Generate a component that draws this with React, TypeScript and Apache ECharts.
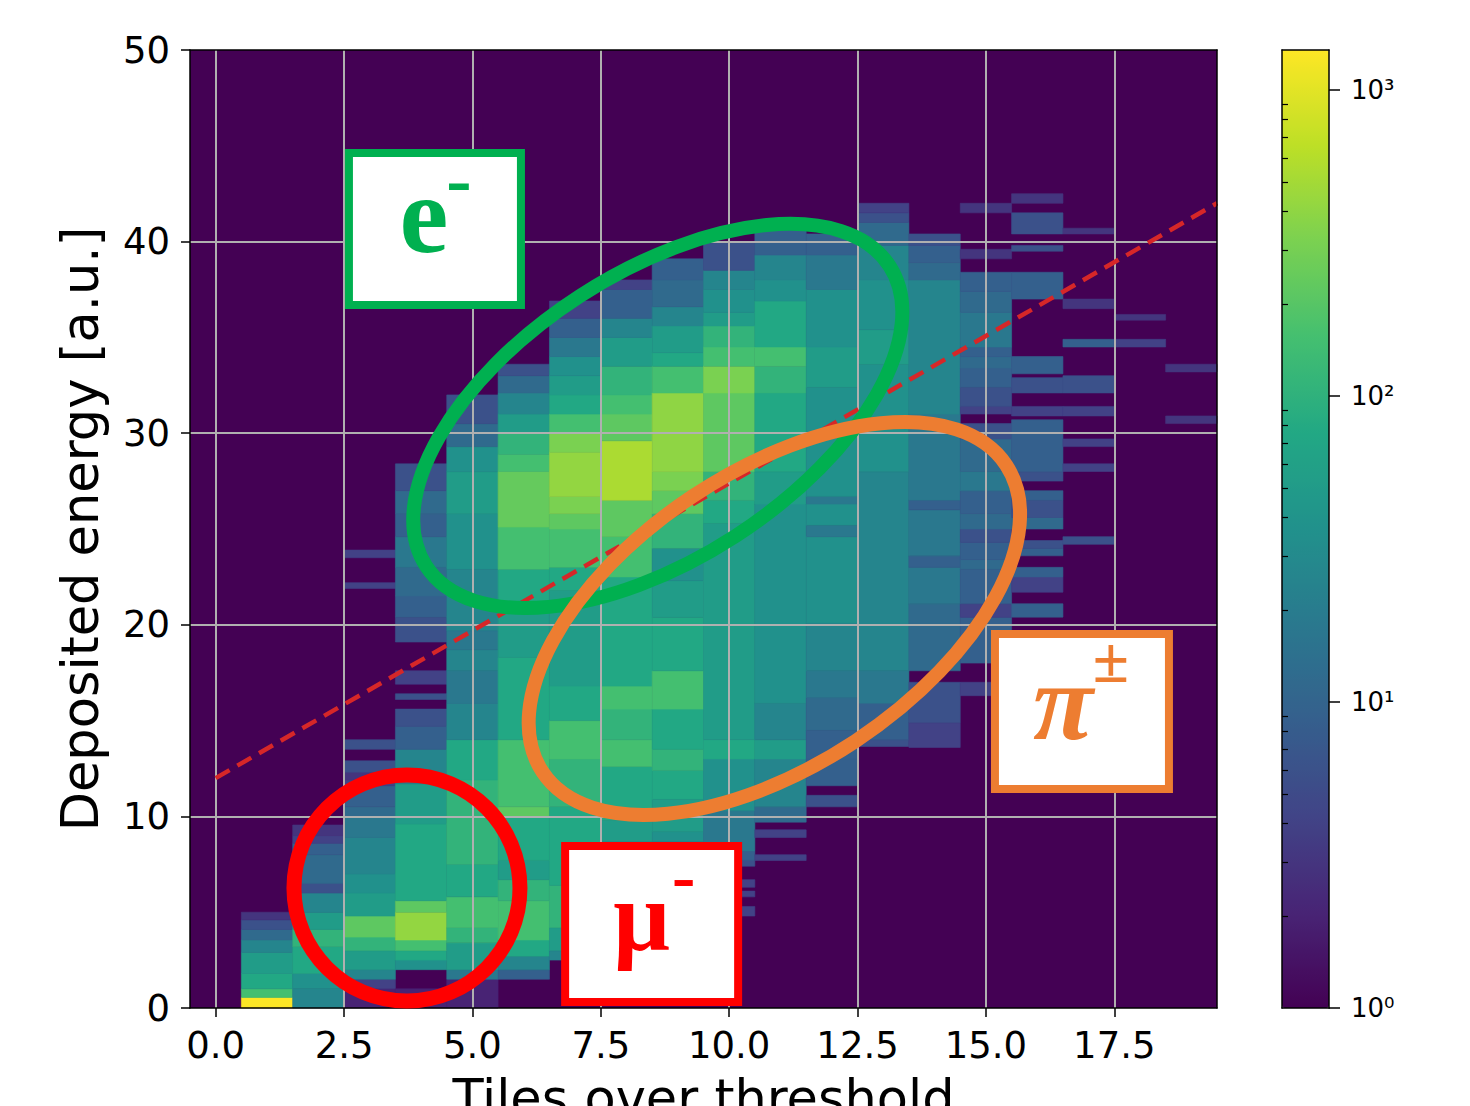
import React, { useEffect, useRef } from "react";
import * as echarts from "echarts";

// ---------- axis ticks ----------
const X_TICKS = [0, 2.5, 5, 7.5, 10, 12.5, 15, 17.5];
const Y_TICKS = [0, 10, 20, 30, 40, 50];
const CBAR_MAX_COUNT = 1350;
const CBAR_MAJOR_LOG = [0, 1, 2, 3];
const CBAR_MAJOR_LABELS = ["10⁰", "10¹", "10²", "10³"];

const VIRIDIS = [
  "#440154", "#482475", "#414487", "#355f8d", "#2a788e", "#21918c",
  "#22a884", "#44bf70", "#7ad151", "#bddf26", "#fde725",
];

// ---------- histogram: per column (tiles over threshold), [yLow, yHigh, count] ----------
const COL_0: number[][] = [];
const COL_1 = [[0, 0.55, 1350], [0.55, 1.0, 155], [1.0, 1.8, 75], [1.8, 2.9, 52], [2.9, 3.55, 26], [3.55, 4.1, 12], [4.1, 4.6, 6], [4.6, 5.0, 3]];
const COL_2 = [[0, 1.0, 26], [1.0, 1.8, 37], [1.8, 3.2, 75], [3.2, 4.1, 108], [4.1, 5.0, 52], [5.0, 6.0, 26], [6.0, 6.5, 6], [6.5, 8.0, 12], [8.0, 8.6, 9], [8.6, 9.0, 4], [9.0, 9.55, 3]];
const COL_3 = [[0, 1.0, 2], [1.0, 1.5, 4], [1.5, 2.0, 26], [2.0, 3.0, 52], [3.0, 3.7, 108], [3.7, 4.8, 220], [4.8, 6.0, 52], [6.0, 7.0, 37], [7.0, 8.9, 26], [8.9, 10.0, 18], [10.0, 10.5, 12], [10.5, 11.6, 9], [11.6, 11.9, 4], [11.9, 12.3, 3], [12.3, 12.9, 6], [13.5, 14.0, 6], [21.9, 22.2, 4], [23.5, 23.9, 4]];
const COL_4 = [[0, 1.0, 2], [2.0, 2.5, 37], [2.5, 3.0, 75], [3.0, 3.55, 155], [3.55, 5.0, 420], [5.0, 5.6, 220], [5.6, 9.6, 75], [9.6, 11.7, 52], [11.7, 13.5, 26], [13.5, 14.7, 9], [14.7, 15.6, 6], [16.1, 16.4, 6], [16.9, 17.6, 4], [19.1, 20.4, 6], [20.4, 21.5, 9], [21.5, 23.0, 12], [23.0, 24.6, 18], [24.6, 25.8, 9], [25.8, 27.0, 12], [27.0, 28.4, 6]];
const COL_5 = [[0, 1.5, 2], [1.5, 2.0, 18], [2.0, 3.4, 52], [3.4, 4.2, 108], [4.2, 5.8, 155], [5.8, 7.5, 75], [7.5, 11.9, 108], [11.9, 14.0, 75], [14.0, 15.9, 26], [15.9, 17.6, 18], [17.6, 18.7, 26], [18.7, 19.7, 18], [19.7, 22.9, 26], [22.9, 25.8, 37], [25.8, 28.0, 52], [28.0, 29.3, 37], [29.3, 30.5, 12], [30.5, 32.0, 6]];
const COL_6 = [[1.5, 2.0, 9], [2.0, 2.7, 26], [2.7, 3.55, 75], [3.55, 5.6, 155], [5.6, 6.7, 108], [6.7, 7.7, 52], [7.7, 10.0, 75], [10.0, 10.5, 220], [10.5, 14.0, 155], [14.0, 18.3, 75], [18.3, 20.8, 52], [20.8, 22.9, 75], [22.9, 25.1, 155], [25.1, 28.0, 240], [28.0, 28.9, 155], [28.9, 30.0, 108], [30.0, 31.0, 52], [31.0, 32.1, 26], [32.1, 33.0, 12], [33.0, 33.6, 6]];
const COL_7 = [[2.5, 3.0, 26], [3.0, 4.2, 52], [4.2, 6.4, 108], [6.4, 10.5, 75], [10.5, 13.0, 108], [13.0, 15.0, 155], [15.0, 16.8, 75], [16.8, 21.8, 52], [21.8, 23.0, 75], [23.0, 25.0, 155], [25.0, 25.8, 220], [25.8, 26.7, 320], [26.7, 29.0, 420], [29.0, 30.0, 320], [30.0, 31.0, 155], [31.0, 32.0, 75], [32.0, 33.0, 52], [33.0, 34.0, 37], [34.0, 35.0, 18], [35.0, 36.0, 9], [36.0, 36.9, 4]];
const COL_8 = [[4.0, 6.0, 26], [6.0, 8.7, 37], [8.7, 9.8, 52], [9.8, 12.6, 75], [12.6, 14.0, 155], [14.0, 15.6, 108], [15.6, 16.8, 155], [16.8, 22.5, 75], [22.5, 24.6, 155], [24.6, 26.5, 220], [26.5, 29.6, 540], [29.6, 31.0, 220], [31.0, 32.0, 155], [32.0, 33.5, 108], [33.5, 35.0, 52], [35.0, 36.0, 26], [36.0, 37.5, 9], [37.5, 38.0, 4]];
const COL_9 = [[6.5, 8.7, 26], [8.7, 9.2, 37], [9.2, 10.9, 52], [10.9, 12.4, 75], [12.4, 13.5, 108], [13.5, 15.6, 75], [15.6, 17.6, 155], [17.6, 20.4, 75], [20.4, 22.3, 52], [22.3, 24.0, 37], [24.0, 25.8, 108], [25.8, 27.0, 220], [27.0, 28.0, 320], [28.0, 32.1, 400], [32.1, 33.5, 155], [33.5, 34.2, 75], [34.2, 35.6, 52], [35.6, 36.6, 26], [36.6, 38.0, 12], [38.0, 39.1, 9]];
const COL_10 = [[4.8, 5.3, 4], [5.8, 6.1, 4], [6.3, 6.7, 4], [7.4, 7.7, 6], [7.7, 8.2, 9], [8.2, 10.3, 18], [10.3, 13.0, 37], [13.0, 14.0, 75], [14.0, 25.3, 52], [25.3, 26.5, 75], [26.5, 28.0, 108], [28.0, 32.1, 220], [32.1, 33.5, 320], [33.5, 34.5, 155], [34.5, 35.6, 108], [35.6, 36.3, 52], [36.3, 37.5, 37], [37.5, 38.5, 26], [38.5, 40.0, 6]];
const COL_11 = [[7.7, 8.0, 4], [8.9, 9.3, 4], [9.7, 10.5, 12], [10.5, 13.0, 26], [13.0, 14.0, 52], [14.0, 15.9, 26], [15.9, 26.3, 37], [26.3, 28.0, 52], [28.0, 32.1, 75], [32.1, 33.5, 108], [33.5, 34.5, 155], [34.5, 36.9, 75], [36.9, 38.0, 37], [38.0, 39.3, 26], [39.3, 40.6, 9]];
const COL_12 = [[10.5, 11.1, 6], [11.6, 13.0, 9], [13.0, 14.5, 9], [14.5, 16.2, 12], [16.2, 17.6, 18], [17.6, 20.1, 26], [20.1, 24.6, 37], [24.6, 25.2, 18], [25.2, 26.3, 37], [26.3, 26.7, 18], [26.7, 32.4, 37], [32.4, 34.5, 52], [34.5, 37.5, 37], [37.5, 39.3, 18], [39.3, 40.4, 9]];
const COL_13 = [[13.65, 14.0, 6], [14.0, 15.9, 9], [15.9, 17.6, 18], [17.6, 28.0, 26], [28.0, 33.6, 37], [33.6, 35.4, 52], [35.4, 38.0, 37], [38.0, 39.8, 26], [39.8, 41.0, 12], [41.0, 41.5, 6], [41.5, 42.0, 4]];
const COL_14 = [[13.6, 14.9, 4], [14.9, 17.0, 6], [17.6, 21.1, 12], [21.1, 23.0, 18], [23.0, 23.6, 9], [23.6, 26.0, 18], [26.0, 26.5, 9], [26.5, 31.0, 18], [31.0, 38.0, 26], [38.0, 38.9, 12], [38.9, 39.8, 9], [39.8, 40.4, 6]];
const COL_15 = [[16.3, 17.0, 4], [18.0, 20.4, 9], [20.4, 21.1, 4], [21.1, 22.9, 9], [22.9, 23.4, 12], [23.4, 24.3, 9], [24.3, 25.0, 6], [25.0, 25.8, 12], [25.8, 27.0, 9], [27.0, 28.0, 18], [28.0, 29.7, 12], [29.7, 30.5, 6], [31.0, 31.4, 4], [31.4, 32.4, 6], [32.4, 33.4, 9], [33.4, 34.0, 12], [34.0, 34.5, 9], [34.5, 36.3, 18], [36.3, 37.4, 12], [37.4, 38.4, 9], [39.1, 39.6, 3], [41.5, 42.0, 3]];
const COL_16 = [[20.4, 21.1, 9], [21.7, 22.5, 4], [22.5, 23.0, 9], [23.6, 24.0, 9], [24.0, 24.4, 6], [25.0, 25.6, 12], [25.6, 26.5, 6], [26.5, 27.0, 9], [27.5, 28.0, 6], [28.0, 30.7, 9], [30.9, 31.4, 4], [32.1, 32.9, 6], [33.1, 34.0, 9], [37.0, 38.4, 9], [39.5, 39.8, 6], [40.4, 41.5, 6], [42.0, 42.5, 3]];
const COL_17 = [[24.2, 24.6, 6], [28.0, 28.4, 4], [29.3, 29.7, 4], [30.9, 31.4, 4], [32.1, 33.0, 6], [34.5, 34.9, 9], [36.5, 37.0, 3], [40.4, 40.7, 3]];
const COL_18 = [[34.5, 34.9, 4], [35.9, 36.2, 3]];
const COL_19 = [[30.5, 30.9, 3], [33.2, 33.6, 3]];

const TILE_COLUMNS = [
  COL_0, COL_1, COL_2, COL_3, COL_4, COL_5, COL_6, COL_7, COL_8, COL_9,
  COL_10, COL_11, COL_12, COL_13, COL_14, COL_15, COL_16, COL_17, COL_18, COL_19,
];

// red dashed separation line (endpoints in data units)
const SEPARATION_LINE = [[0, 12], [19.5, 42]];

// ---------- annotations ----------
const ELLIPSES = [
  { x: 8.61, y: 30.9, rx: 276, ry: 143, angle: 32.9, color: "#00b050", width: 14 },
  { x: 10.88, y: 20.33, rx: 278, ry: 147, angle: 33.5, color: "#ed7d31", width: 14 },
  { x: 3.725, y: 6.26, rx: 113, ry: 113, angle: 0, color: "#ff0000", width: 15 },
];
const LABEL_BOXES = [
  { x: 4.27, y: 40.66, w: 172, h: 152, color: "#00b050", main: "e", sup: "-", italic: false, mainSize: 110, mainDx: -11, mainDy: -14, supDx: 24, supDy: -50, supSize: 76 },
  { x: 16.87, y: 15.47, w: 174, h: 155, color: "#ed7d31", main: "π", sup: "±", italic: true, mainSize: 110, mainDx: -19, mainDy: -10, supDx: 29, supDy: -52, supSize: 66 },
  { x: 8.49, y: 4.38, w: 173, h: 156, color: "#ff0000", main: "μ", sup: "-", italic: false, mainSize: 100, mainDx: -10, mainDy: -8, supDx: 32, supDy: -48, supSize: 70 },
];

const FONT = "DejaVu Sans";

export default function App() {
  const ref = useRef<HTMLDivElement>(null);

  useEffect(() => {
    document.body.style.margin = "0";
    const chart = echarts.init(ref.current!, null, { renderer: "svg" });

    const cells: number[][] = [];
    TILE_COLUMNS.forEach((col, k) => {
      col.forEach((s) => cells.push([k, s[0], s[1], s[2], Math.log10(s[2])]));
    });

    const logMax = Math.log10(CBAR_MAX_COUNT);
    const minorLog: number[] = [];
    for (let d = 0; d < 3; d++) {
      for (let m = 2; m <= 9; m++) {
        const v = Math.log10(m * Math.pow(10, d));
        if (v < logMax) minorLog.push(v);
      }
    }

    const axisLine = { show: true, onZero: false, lineStyle: { color: "#000", width: 1.5 } };

    const option: any = {
      animation: false,
      backgroundColor: "#ffffff",
      grid: [
        { left: 190, top: 50, width: 1027, height: 958, show: true, backgroundColor: "#440154", borderWidth: 0, containLabel: false, outerBoundsMode: "none" },
        { left: 1282, top: 50, width: 47, height: 958, show: false, containLabel: false, outerBoundsMode: "none" },
      ],
      xAxis: [
        {
          type: "value", gridIndex: 0, min: -0.5, max: 19.5, position: "bottom", z: 10,
          axisLine,
          axisTick: { show: true, customValues: X_TICKS, length: 9, lineStyle: { color: "#000", width: 1.5 } },
          axisLabel: { customValues: X_TICKS, formatter: (v: number) => v.toFixed(1), fontFamily: FONT, fontSize: 37, color: "#000", margin: 19 },
          splitLine: { show: false },
          name: "Tiles over threshold", nameLocation: "middle", nameGap: 65,
          nameTextStyle: { fontFamily: FONT, fontSize: 51, color: "#000" },
        },
        {
          type: "value", gridIndex: 0, min: -0.5, max: 19.5, position: "top", z: 10,
          axisLine, axisTick: { show: false }, axisLabel: { show: false }, splitLine: { show: false },
        },
        {
          type: "value", gridIndex: 1, min: 0, max: 1, position: "bottom", z: 10,
          axisLine, axisTick: { show: false }, axisLabel: { show: false }, splitLine: { show: false },
        },
        {
          type: "value", gridIndex: 1, min: 0, max: 1, position: "top", z: 10,
          axisLine, axisTick: { show: false }, axisLabel: { show: false }, splitLine: { show: false },
        },
      ],
      yAxis: [
        {
          type: "value", gridIndex: 0, min: 0, max: 50, interval: 10, position: "left", z: 10,
          axisLine,
          axisTick: { show: true, length: 9, lineStyle: { color: "#000", width: 1.5 } },
          axisLabel: { fontFamily: FONT, fontSize: 37, color: "#000", margin: 20, showMinLabel: true, showMaxLabel: true },
          splitLine: { show: false },
          name: "Deposited energy [a.u.]", nameLocation: "middle", nameGap: 84, nameRotate: 90,
          nameTextStyle: { fontFamily: FONT, fontSize: 51, color: "#000" },
        },
        {
          type: "value", gridIndex: 0, min: 0, max: 50, position: "right", z: 10,
          axisLine, axisTick: { show: false }, axisLabel: { show: false }, splitLine: { show: false },
        },
        {
          type: "value", gridIndex: 1, min: 0, max: logMax, position: "right", z: 10,
          axisLine,
          axisTick: { show: true, customValues: CBAR_MAJOR_LOG, length: 11, lineStyle: { color: "#000", width: 1.5 } },
          axisLabel: {
            customValues: CBAR_MAJOR_LOG,
            formatter: (v: number) => CBAR_MAJOR_LABELS[Math.round(v)],
            fontFamily: FONT, fontSize: 26, color: "#000", margin: 22,
          },
          splitLine: { show: false },
        },
        {
          type: "value", gridIndex: 1, min: 0, max: logMax, position: "right", z: 10,
          axisLine: { show: false },
          axisTick: { show: true, customValues: minorLog, length: 6, lineStyle: { color: "#000", width: 1.2 } },
          axisLabel: { show: false },
          splitLine: { show: false },
        },
        {
          type: "value", gridIndex: 1, min: 0, max: logMax, position: "left", z: 10,
          axisLine, axisTick: { show: false }, axisLabel: { show: false }, splitLine: { show: false },
        },
      ],
      visualMap: {
        type: "continuous",
        min: 0,
        max: logMax,
        dimension: 4,
        seriesIndex: 0,
        orient: "vertical",
        left: 1282,
        top: 50,
        padding: 0,
        itemWidth: 47,
        itemHeight: 958,
        calculable: false,
        hoverLink: false,
        text: null,
        inRange: { color: VIRIDIS },
        z: 4,
      },
      series: [
        {
          type: "custom",
          xAxisIndex: 0,
          yAxisIndex: 0,
          data: cells,
          encode: { x: 0, y: [1, 2] },
          z: 2,
          silent: true,
          renderItem: (params: any, api: any) => {
            const k = api.value(0);
            const y0 = api.value(1);
            const y1 = api.value(2);
            const a = api.coord([k - 0.5, y1]);
            const b = api.coord([k + 0.5, y0]);
            const color = api.visual("color");
            return {
              type: "rect",
              shape: { x: a[0], y: a[1], width: b[0] - a[0], height: b[1] - a[1] },
              style: { fill: color, stroke: color, lineWidth: 0.6 },
            };
          },
        },
        {
          type: "line",
          xAxisIndex: 0,
          yAxisIndex: 0,
          data: [],
          silent: true,
          markLine: {
            silent: true,
            symbol: ["none", "none"],
            label: { show: false },
            lineStyle: { color: "#b0b0b0", width: 2, type: "solid" },
            data: [
              ...X_TICKS.map((v) => ({ xAxis: v })),
              ...Y_TICKS.filter((v) => v > 0 && v < 50).map((v) => ({ yAxis: v })),
            ],
          },
        },
        {
          type: "line",
          xAxisIndex: 0,
          yAxisIndex: 0,
          data: SEPARATION_LINE,
          symbol: "none",
          silent: true,
          z: 6,
          lineStyle: { color: "#d62728", width: 4.5, type: [16, 9] },
        },
      ],
    };

    chart.setOption(option);

    const toPx = (x: number, y: number) =>
      chart.convertToPixel({ xAxisIndex: 0, yAxisIndex: 0 } as any, [x, y]) as number[];

    const graphics: any[] = [];
    ELLIPSES.forEach((e) => {
      const c = toPx(e.x, e.y);
      graphics.push({
        type: "ellipse",
        x: c[0],
        y: c[1],
        rotation: (e.angle * Math.PI) / 180,
        shape: { cx: 0, cy: 0, rx: e.rx, ry: e.ry },
        style: { fill: "none", stroke: e.color, lineWidth: e.width },
        z: 100,
        silent: true,
      });
    });
    LABEL_BOXES.forEach((b) => {
      const c = toPx(b.x, b.y);
      graphics.push({
        type: "rect",
        x: c[0] - b.w / 2,
        y: c[1] - b.h / 2,
        shape: { x: 0, y: 0, width: b.w, height: b.h },
        style: { fill: "#ffffff", stroke: b.color, lineWidth: 8 },
        z: 100,
        silent: true,
      });
      graphics.push({
        type: "text",
        x: c[0] + b.mainDx,
        y: c[1] + b.mainDy,
        style: {
          text: b.main,
          fill: b.color,
          font: `${b.italic ? "italic " : ""}bold ${b.mainSize}px "Liberation Serif"`,
          textAlign: "center",
          textVerticalAlign: "middle",
        },
        z: 101,
        silent: true,
      });
      graphics.push({
        type: "text",
        x: c[0] + b.supDx,
        y: c[1] + b.supDy,
        style: {
          text: b.sup,
          fill: b.color,
          font: `bold ${b.supSize}px "Liberation Serif"`,
          textAlign: "center",
          textVerticalAlign: "middle",
        },
        z: 101,
        silent: true,
      });
    });
    chart.setOption({ graphic: graphics });

    return () => chart.dispose();
  }, []);

  return <div ref={ref} style={{ width: 1470, height: 1106 }} />;
}
